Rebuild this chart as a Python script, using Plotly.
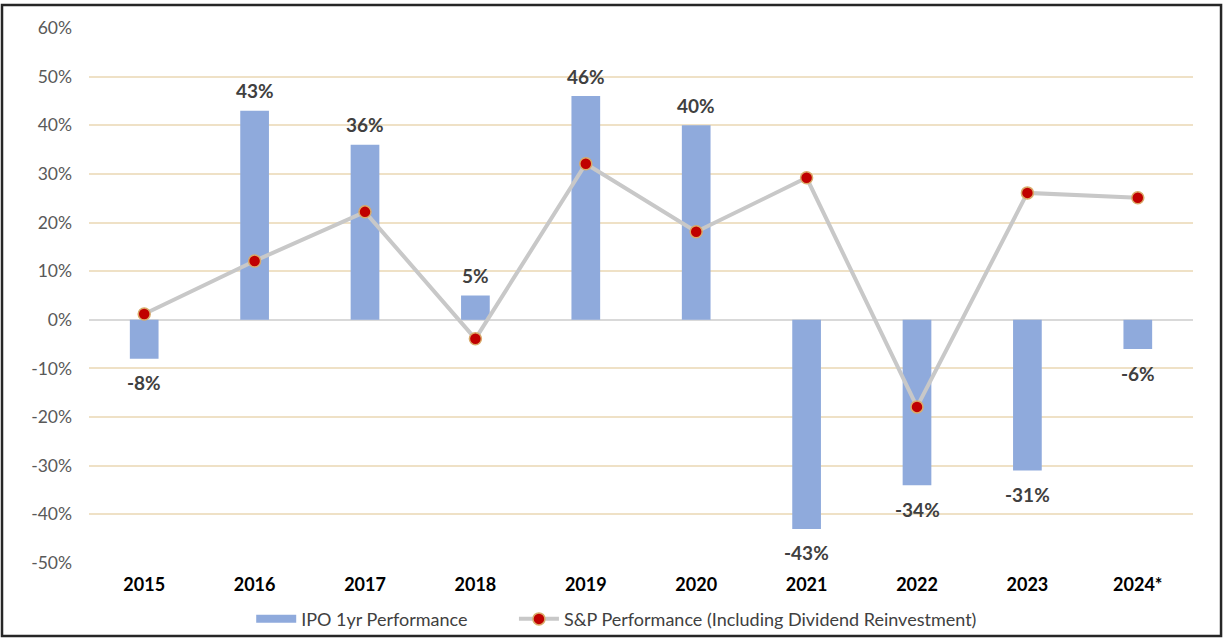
import plotly.graph_objects as go

years = ["2015", "2016", "2017", "2018", "2019", "2020", "2021", "2022", "2023", "2024*"]
ipo_perf = [-8, 43, 36, 5, 46, 40, -43, -34, -31, -6]
sp_perf = [1.2, 12.1, 22.2, -3.9, 32.1, 18.1, 29.2, -17.9, 26.1, 25.1]
y_ticks = [60, 50, 40, 30, 20, 10, 0, -10, -20, -30, -40, -50]

FONT = "Lato, 'Open Sans', sans-serif"
BAR_COLOR = "#8FAADC"
PAD = "\u00a0" * 9  # extra spacing between legend items

fig = go.Figure()
fig.add_trace(go.Bar(
    x=years, y=ipo_perf, name="IPO 1yr Performance",
    marker=dict(color=BAR_COLOR, line=dict(width=0)),
    showlegend=False,
))
# legend-only entry drawn as a wide flat swatch, like the original legend key
fig.add_trace(go.Scatter(
    x=[None], y=[None], name="IPO 1yr Performance" + PAD, mode="lines",
    line=dict(color=BAR_COLOR, width=8),
))
fig.add_trace(go.Scatter(
    x=years, y=sp_perf, name="S&P Performance (Including Dividend Reinvestment)",
    mode="lines+markers",
    line=dict(color="#C8C8C8", width=4),
    marker=dict(color="#C00000", size=12, line=dict(color="#D9AA6A", width=1.5)),
))

annotations = []
for i, v in enumerate(ipo_perf):
    annotations.append(dict(
        x=i, y=v, xref="x", yref="y", text=f"{v}%", showarrow=False,
        yshift=20 if v >= 0 else -24,
        font=dict(family=FONT, size=19, color="#404040", weight="bold"),
    ))

fig.update_layout(
    width=1225, height=640,
    margin=dict(l=89, r=32, t=28, b=77, autoexpand=False),
    paper_bgcolor="white", plot_bgcolor="white",
    font=dict(family=FONT),
    showlegend=True,
    bargap=0.74,
    legend=dict(orientation="h", x=0.478, y=-0.105, xanchor="center", yanchor="middle",
                font=dict(family=FONT, size=18, color="#404040"),
                itemwidth=40, tracegroupgap=0, bgcolor="rgba(0,0,0,0)"),
    annotations=annotations,
    shapes=[dict(type="rect", xref="paper", yref="paper",
                 x0=-0.0788, x1=1.0254, y0=-0.1364, y1=1.043,
                 line=dict(color="#262626", width=2.5), layer="above")],
    xaxis=dict(
        type="category", categoryorder="array", categoryarray=years,
        range=[-0.5, len(years) - 0.5],
        showgrid=False, showline=False, zeroline=False, ticks="",
        tickfont=dict(family=FONT, size=18, color="#000000", weight="bold"),
        ticklabelstandoff=9,
    ),
    yaxis=dict(
        range=[-50, 60], tickvals=y_ticks, ticktext=[f"{t}%" for t in y_ticks],
        showgrid=True, gridcolor="#EFE1C6", gridwidth=1.5,
        zeroline=True, zerolinecolor="#D9D9D9", zerolinewidth=1.5,
        showline=False, ticks="",
        tickfont=dict(family=FONT, size=17.5, color="#595959"),
        ticklabelstandoff=16,
    ),
)

fig.write_html("out.html", config={"displayModeBar": False},
               post_script="document.body.style.margin='0';document.body.style.padding='0';")
